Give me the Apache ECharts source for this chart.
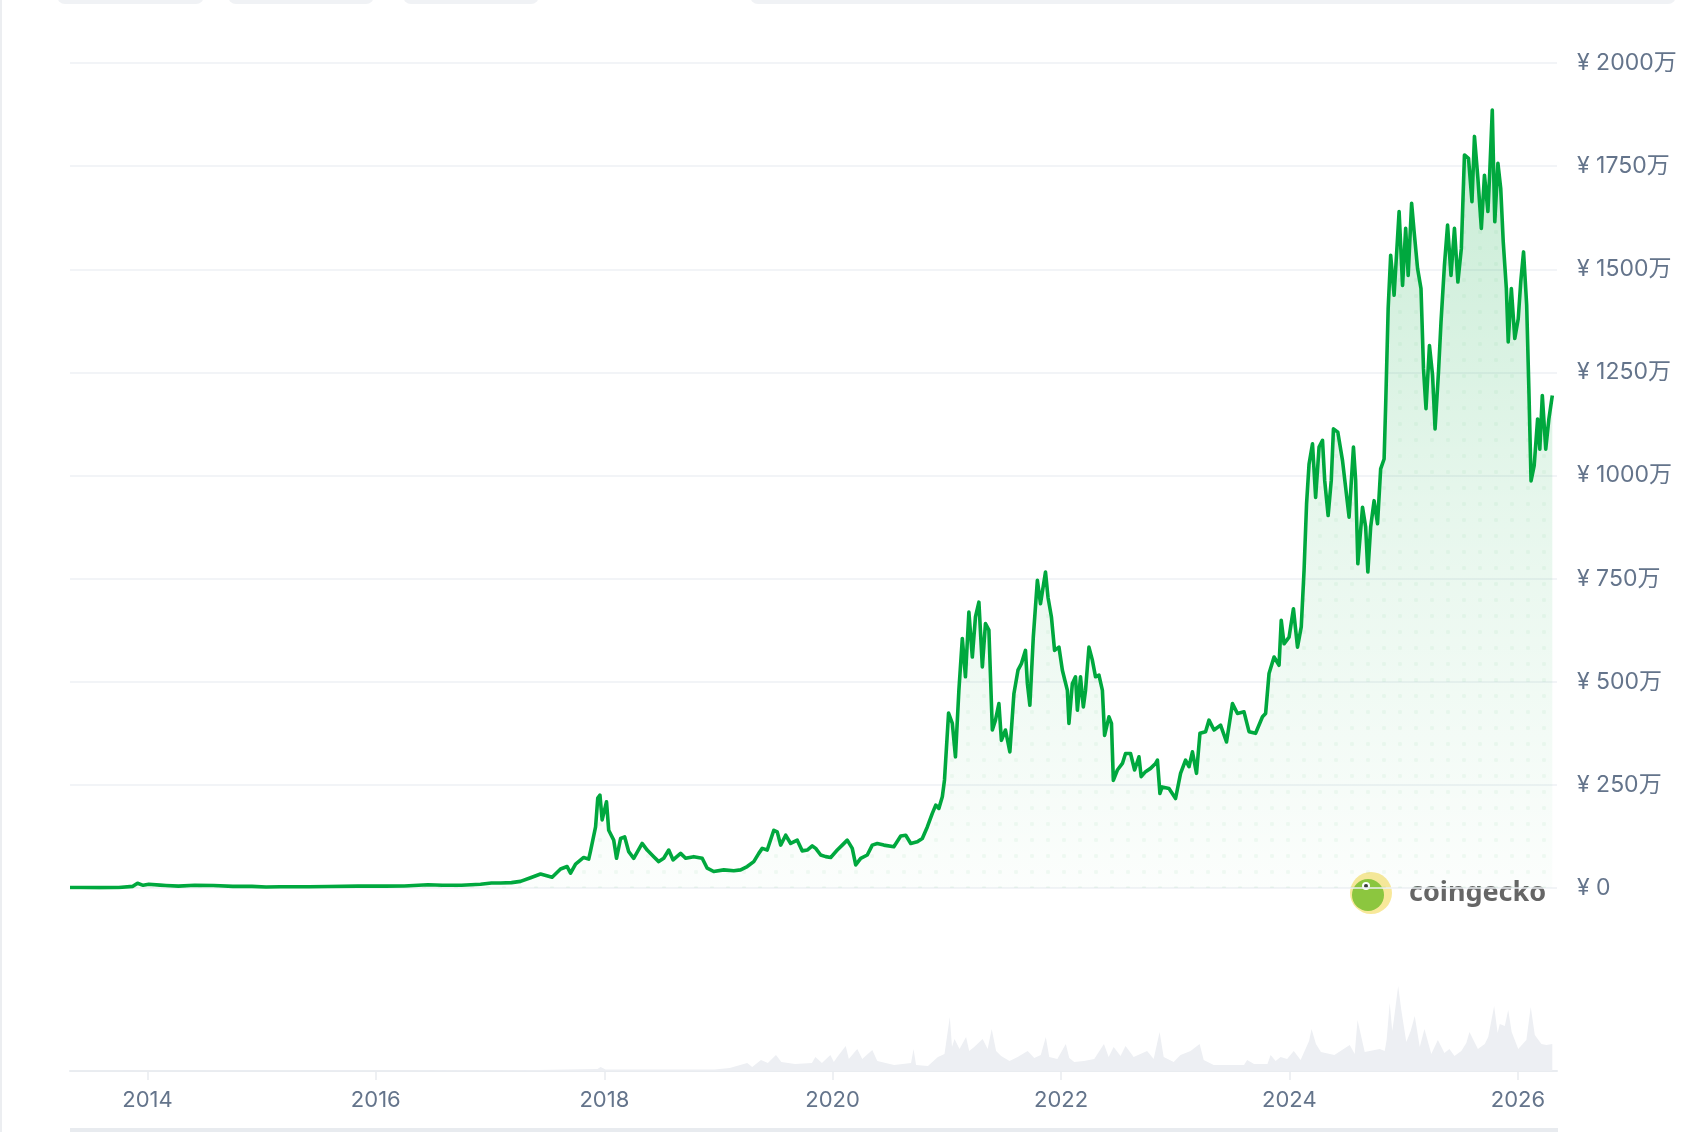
<!DOCTYPE html>
<html>
<head>
<meta charset="utf-8">
<script src="https://cdn.jsdelivr.net/npm/echarts@6/dist/echarts.min.js"></script>
<style>
html,body{margin:0;padding:0;background:#ffffff;}
#chart{width:1684px;height:1132px;}
</style>
</head>
<body>
<div id="chart"></div>
<script>
// Price in 万円 (JPY x 10,000)
const priceSeries = [
['2013-04-28',1.3],['2013-06-01',1.2],['2013-08-01',1.0],['2013-10-01',1.3],['2013-11-15',4],['2013-11-30',11.5],['2013-12-05',12],['2013-12-18',6.5],
['2014-01-05',9],['2014-02-10',7],['2014-03-01',6],['2014-04-10',4.5],['2014-06-01',6.5],['2014-08-01',6],['2014-10-01',4],['2014-12-01',4],
['2015-01-15',2.5],['2015-03-01',3],['2015-06-01',3],['2015-08-01',3.5],['2015-11-05',4.5],['2015-12-15',5],
['2016-02-01',4.5],['2016-04-01',4.8],['2016-06-16',8],['2016-08-01',6.5],['2016-10-01',6.5],['2016-12-01',9],
['2017-01-05',12],['2017-02-03',12],['2017-03-10',13],['2017-04-08',16],['2017-05-10',25],['2017-06-11',34],['2017-07-18',26],['2017-08-14',46],
['2017-09-04',52],['2017-09-15',36],['2017-10-01',58],['2017-10-27',74],['2017-11-12',70],['2017-11-18',90],['2017-12-04',148],['2017-12-11',218],
['2017-12-18',225],['2017-12-25',165],['2018-01-08',209],['2018-01-15',140],['2018-01-31',116],['2018-02-09',72],['2018-02-22',120],['2018-03-07',124],
['2018-03-20',88],['2018-04-05',72],['2018-05-02',108],['2018-05-18',92],['2018-06-08',76],['2018-06-24',64],['2018-07-10',72],['2018-07-26',92],
['2018-08-09',68],['2018-09-02',84],['2018-09-18',72],['2018-10-14',76],['2018-11-10',72],['2018-11-26',48],['2018-12-17',40],['2019-01-18',44],
['2019-02-19',42],['2019-03-13',44],['2019-04-03',52],['2019-04-24',64],['2019-05-10',84],['2019-05-21',96],['2019-06-06',92],['2019-06-27',140],
['2019-07-08',136],['2019-07-19',104],['2019-08-04',128],['2019-08-20',108],['2019-09-10',116],['2019-09-26',90],['2019-10-12',92],['2019-10-28',102],
['2019-11-08',96],['2019-11-24',80],['2019-12-10',76],['2019-12-26',74],['2020-01-16',92],['2020-02-01',104],['2020-02-17',116],['2020-03-04',96],
['2020-03-15',56],['2020-03-31',72],['2020-04-21',80],['2020-05-07',104],['2020-05-23',108],['2020-06-13',104],['2020-07-15',100],['2020-08-06',126],
['2020-08-22',128],['2020-09-07',108],['2020-09-28',112],['2020-10-14',120],['2020-10-30',148],['2020-11-15',181],['2020-11-26',201],['2020-12-06',193],
['2020-12-17',221],['2020-12-24',262],['2021-01-06',424],['2021-01-18',399],['2021-01-28',318],['2021-02-08',479],['2021-02-19',605],['2021-03-01',512],
['2021-03-12',669],['2021-03-23',560],['2021-04-02',657],['2021-04-13',693],['2021-04-24',536],['2021-05-04',641],['2021-05-15',625],['2021-05-26',383],
['2021-06-05',407],['2021-06-16',447],['2021-06-24',358],['2021-07-07',383],['2021-07-21',330],['2021-08-03',471],['2021-08-16',528],['2021-08-27',544],
['2021-09-09',576],['2021-09-15',496],['2021-09-23',443],['2021-10-04',608],['2021-10-17',746],['2021-10-27',689],['2021-11-12',766],['2021-11-20',705],
['2021-12-01',657],['2021-12-11',576],['2021-12-25',584],['2022-01-05',528],['2022-01-21',479],['2022-01-26',399],['2022-02-06',496],['2022-02-16',512],
['2022-02-22',431],['2022-03-04',512],['2022-03-13',439],['2022-03-20',479],['2022-03-31',584],['2022-04-11',552],['2022-04-21',512],['2022-05-02',516],
['2022-05-13',479],['2022-05-20',370],['2022-06-03',415],['2022-06-11',399],['2022-06-17',261],['2022-06-30',286],['2022-07-16',302],['2022-07-26',326],
['2022-08-11',326],['2022-08-24',286],['2022-09-07',318],['2022-09-14',270],['2022-09-28',282],['2022-10-14',290],['2022-10-30',302],['2022-11-05',310],
['2022-11-13',229],['2022-11-20',245],['2022-12-12',241],['2023-01-02',217],['2023-01-18',278],['2023-02-03',310],['2023-02-14',294],['2023-02-25',330],
['2023-03-10',278],['2023-03-21',375],['2023-04-08',379],['2023-04-19',407],['2023-05-05',383],['2023-05-26',395],['2023-06-14',354],['2023-07-03',447],
['2023-07-19',423],['2023-08-09',427],['2023-08-25',379],['2023-09-15',375],['2023-10-07',415],['2023-10-17',423],['2023-10-28',520],['2023-11-13',560],
['2023-11-29',540],['2023-12-06',649],['2023-12-15',592],['2023-12-31',608],['2024-01-14',677],['2024-01-27',584],['2024-02-08',633],['2024-02-17',770],
['2024-02-25',931],['2024-03-04',1028],['2024-03-15',1077],['2024-03-25',947],['2024-04-05',1069],['2024-04-16',1085],['2024-04-23',988],['2024-05-04',903],
['2024-05-14',988],['2024-05-21',1113],['2024-06-04',1105],['2024-06-19',1036],['2024-07-10',899],['2024-07-24',1069],['2024-07-31',988],['2024-08-07',786],
['2024-08-22',923],['2024-09-01',875],['2024-09-08',766],['2024-09-17',875],['2024-09-28',939],['2024-10-09',883],['2024-10-19',1016],['2024-10-30',1040],
['2024-11-04',1170],['2024-11-12',1405],['2024-11-20',1534],['2024-12-01',1437],['2024-12-17',1640],['2024-12-28',1461],['2025-01-07',1599],['2025-01-15',1485],
['2025-01-26',1660],['2025-02-03',1591],['2025-02-14',1502],['2025-02-25',1453],['2025-03-05',1259],['2025-03-13',1162],['2025-03-24',1315],['2025-04-03',1243],
['2025-04-11',1113],['2025-04-22',1251],['2025-04-30',1372],['2025-05-11',1510],['2025-05-21',1607],['2025-06-01',1485],['2025-06-12',1599],['2025-06-23',1469],
['2025-07-04',1550],['2025-07-14',1777],['2025-07-27',1769],['2025-08-07',1664],['2025-08-15',1822],['2025-08-26',1720],['2025-09-06',1599],['2025-09-16',1728],
['2025-09-27',1640],['2025-10-03',1737],['2025-10-11',1886],['2025-10-19',1615],['2025-10-29',1757],['2025-11-07',1696],['2025-11-15',1567],['2025-11-25',1453],
['2025-12-01',1324],['2025-12-11',1453],['2025-12-22',1332],['2026-01-02',1380],['2026-01-10',1469],['2026-01-19',1542],['2026-01-29',1413],['2026-02-05',1210],
['2026-02-12',987],['2026-02-22',1024],['2026-03-05',1137],['2026-03-12',1064],['2026-03-20',1194],['2026-03-31',1064],['2026-04-10',1137],['2026-04-21',1194]
];

// Relative trading volume
const volumeSeries = [
['2013-04-28',0.3],['2016-06-01',0.5],['2017-06-01',1],['2017-12-10',2],['2017-12-20',4],['2018-01-05',1.5],['2018-12-20',1.5],
['2019-02-06',3],['2019-04-03',8],['2019-04-19',4],['2019-05-17',11],['2019-06-08',8],['2019-07-04',16],['2019-07-21',9],['2019-09-03',7],
['2019-10-27',8],['2019-11-07',14],['2019-11-28',8],['2019-12-25',16],['2020-01-05',9],['2020-01-16',14],['2020-02-12',25],['2020-02-22',12],
['2020-03-20',22],['2020-04-05',12],['2020-05-07',21],['2020-05-23',10],['2020-07-16',6],['2020-09-08',8],['2020-09-16',22],['2020-09-24',6],
['2020-11-01',5],['2020-12-03',14],['2020-12-24',17],['2021-01-10',54],['2021-01-17',24],['2021-01-25',32],['2021-02-10',22],['2021-03-03',34],
['2021-03-13',20],['2021-03-29',24],['2021-04-25',32],['2021-05-11',22],['2021-05-24',42],['2021-06-07',20],['2021-06-23',15],['2021-07-20',10],
['2021-08-15',14],['2021-09-16',20],['2021-10-07',13],['2021-10-28',16],['2021-11-13',34],['2021-11-24',14],['2021-12-20',12],['2022-01-16',27],
['2022-01-27',13],['2022-02-12',9],['2022-03-15',10],['2022-04-17',12],['2022-05-18',27],['2022-06-02',14],['2022-06-18',24],['2022-07-10',15],
['2022-07-26',25],['2022-08-21',14],['2022-10-03',20],['2022-10-24',12],['2022-11-12',39],['2022-11-25',14],['2022-12-27',9],['2023-01-18',16],
['2023-02-19',20],['2023-03-20',27],['2023-04-02',11],['2023-05-04',6],['2023-08-09',6],['2023-08-19',11],['2023-09-10',7],['2023-10-23',7],
['2023-11-02',16],['2023-11-18',10],['2023-12-04',14],['2023-12-25',12],['2024-01-15',20],['2024-02-06',11],['2024-03-04',30],['2024-03-12',42],
['2024-03-26',27],['2024-04-11',19],['2024-05-24',16],['2024-07-12',26],['2024-07-28',17],['2024-08-06',51],['2024-08-29',19],['2024-10-16',22],
['2024-11-01',20],['2024-11-07',31],['2024-11-17',68],['2024-11-25',40],['2024-12-01',53],['2024-12-14',85],['2024-12-24',61],['2025-01-09',29],
['2025-01-23',40],['2025-02-05',55],['2025-02-21',24],['2025-03-08',42],['2025-03-30',17],['2025-04-20',31],['2025-05-11',18],['2025-05-27',22],
['2025-06-12',15],['2025-07-04',20],['2025-07-20',28],['2025-07-30',39],['2025-08-26',22],['2025-09-17',27],['2025-09-28',34],['2025-10-17',65],
['2025-10-28',38],['2025-11-04',47],['2025-11-20',45],['2025-12-01',61],['2025-12-12',39],['2026-01-02',22],['2026-01-28',31],['2026-02-11',64],
['2026-02-24',36],['2026-03-17',27],['2026-04-02',26],['2026-04-21',27]
];

const yearTickDates = ['2014-01-01','2016-01-01','2018-01-01','2020-01-01','2022-01-01','2024-01-01','2026-01-01'];
const priceTickValues = [0,250,500,750,1000,1250,1500,1750,2000];
const axisStart = '2013-04-28';
const axisEnd = '2026-05-06';

function ts(s){ const p = s.split('-').map(Number); return Date.UTC(p[0], p[1]-1, p[2]); }
const priceData = priceSeries.map(d => [ts(d[0]), d[1]]);
const volumeData = volumeSeries.map(d => [ts(d[0]), d[1]]);
const yearTicks = yearTickDates.map(ts);

// dotted texture for the area
const pat = document.createElement('canvas');
pat.width = 16; pat.height = 16;
const pctx = pat.getContext('2d');
pctx.fillStyle = 'rgba(0,150,60,0.07)';
pctx.beginPath(); pctx.arc(8, 8, 2.2, 0, Math.PI*2); pctx.fill();

const labelColor = '#64748b';
const font = 'Inter, "Noto Sans CJK JP", sans-serif';

const chart = echarts.init(document.getElementById('chart'), null, {renderer:'canvas'});
chart.setOption({
  backgroundColor: '#ffffff',
  animation: false,
  grid: [
    {left: 70, right: 127, top: 63, bottom: 244},
    {left: 70, right: 127, top: 971, bottom: 61}
  ],
  xAxis: [
    {type:'value', gridIndex:0, min: ts(axisStart), max: ts(axisEnd), show:false, splitLine:{show:false}},
    {type:'value', gridIndex:1, min: ts(axisStart), max: ts(axisEnd),
      axisLine:{show:true, lineStyle:{color:'#e9ecf0', width:2}},
      axisTick:{show:true, length:9, customValues: yearTicks, lineStyle:{color:'#e9ecf0', width:1.5}},
      splitLine:{show:false},
      axisLabel:{show:true, customValues: yearTicks, margin:18, color:labelColor, fontSize:22, fontFamily:font,
        formatter: v => String(new Date(v).getUTCFullYear())}
    }
  ],
  yAxis: [
    {type:'value', gridIndex:0, position:'right', min:0, max:2000, interval:250,
      axisLine:{show:false}, axisTick:{show:false},
      splitLine:{show:true, lineStyle:{color:'#eef0f4', width:1.5}},
      axisLabel:{margin:20, color:labelColor, fontSize:23, fontFamily:font,
        formatter: v => v === 0 ? '¥ 0' : '¥ ' + v + '万'}
    },
    {type:'value', gridIndex:1, min:0, max:100, show:false, splitLine:{show:false}}
  ],
  series: [
    {type:'line', xAxisIndex:1, yAxisIndex:1, data: volumeData, symbol:'none', silent:true,
      lineStyle:{width:0}, areaStyle:{color:'#edeff3', opacity:1}, z:1},
    {type:'line', xAxisIndex:0, yAxisIndex:0, data: priceData, symbol:'none', silent:true,
      lineStyle:{width:0, opacity:0}, areaStyle:{color:{image: pat, repeat:'repeat'}}, z:2},
    {type:'line', xAxisIndex:0, yAxisIndex:0, data: priceData, symbol:'none',
      lineStyle:{color:'#00a83e', width:3.6, join:'round'},
      areaStyle:{color:{type:'linear', x:0, y:0, x2:0, y2:1, colorStops:[
        {offset:0, color:'rgba(0,168,62,0.32)'},
        {offset:0.5, color:'rgba(0,168,62,0.14)'},
        {offset:1, color:'rgba(0,168,62,0.02)'}]}},
      z:3}
  ],
  graphic: [
    {type:'rect', shape:{x:57, y:-20, width:147, height:24, r:8}, style:{fill:'#f0f2f5'}},
    {type:'rect', shape:{x:228, y:-20, width:146, height:24, r:8}, style:{fill:'#f0f2f5'}},
    {type:'rect', shape:{x:403, y:-20, width:136, height:24, r:8}, style:{fill:'#f0f2f5'}},
    {type:'rect', shape:{x:750, y:-20, width:926, height:24, r:8}, style:{fill:'#f0f2f5'}},
    {type:'rect', shape:{x:0, y:0, width:2, height:1132}, style:{fill:'#eceef1'}},
    {type:'rect', shape:{x:70, y:1128, width:1488, height:4}, style:{fill:'#e8ebef'}},
    {type:'group', z:10, children:[
      {type:'circle', shape:{cx:1371, cy:893, r:21}, style:{fill:'#f8e89a'}},
      {type:'circle', shape:{cx:1368, cy:895, r:16}, style:{fill:'#8cc63f'}},
      {type:'circle', shape:{cx:1366, cy:886, r:4}, style:{fill:'#ffffff'}},
      {type:'circle', shape:{cx:1366, cy:886, r:2}, style:{fill:'#3a3a3a'}},
      {type:'text', style:{text:'coingecko', x:1409, y:893, verticalAlign:'middle', align:'left',
        font:'bold 27px "Noto Sans", Inter, sans-serif', fill:'#666666'}}
    ]}
  ]
});
</script>
</body>
</html>
